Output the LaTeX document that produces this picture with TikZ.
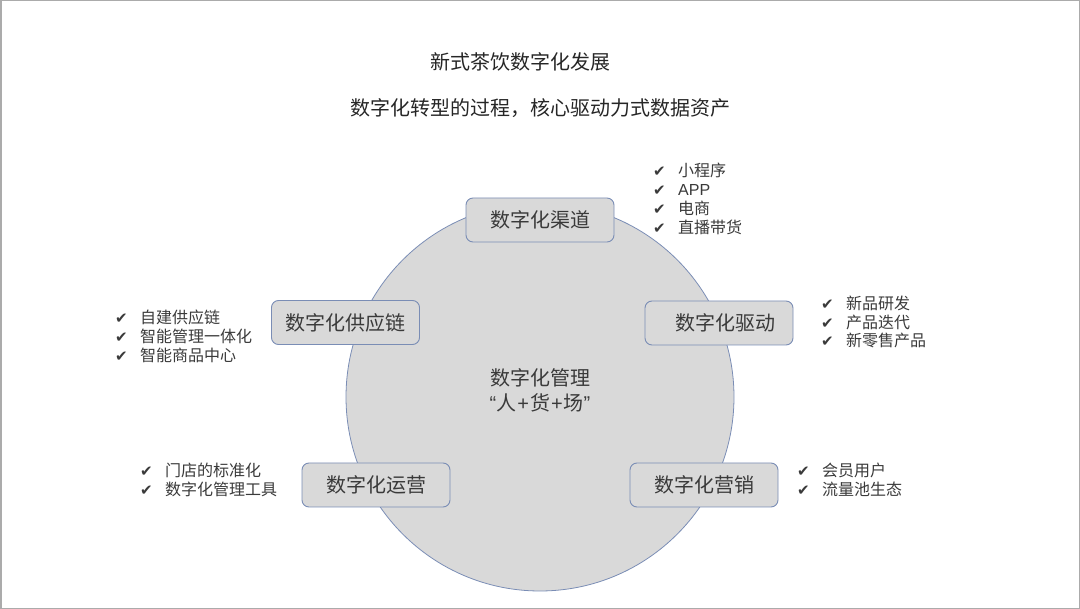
\documentclass[tikz,border=0pt]{standalone}
\usepackage{fontspec}
\setmainfont{Noto Sans CJK SC}
\newfontfamily\latinfont{Liberation Sans}
\newfontfamily\symfont{DejaVu Sans}
\newcommand{\chk}{{\symfont\fontsize{15pt}{15pt}\selectfont ✔}}
\newcommand{\itm}[1]{\makebox[25pt][l]{\chk}#1}
\definecolor{cgray}{HTML}{D9D9D9}
\definecolor{edgeblue}{HTML}{7A8DB5}
\definecolor{txt}{HTML}{3A3A3A}
\definecolor{framegray}{HTML}{ABABAB}
\tikzset{
  item/.style={anchor=west, inner sep=0pt, font=\fontsize{16pt}{19pt}\selectfont, text=txt, text height=13pt, text depth=1pt},
  stagebox/.style={rectangle, rounded corners=7pt, draw=edgeblue, fill=cgray, line width=0.9pt, minimum width=148pt, minimum height=44pt, font=\fontsize{20pt}{24pt}\selectfont, text=txt, inner sep=0pt},
  titletext/.style={font=\fontsize{20pt}{24pt}\selectfont, text=black!85, inner sep=0pt}
}
\begin{document}
\begin{tikzpicture}[x=1pt,y=-1pt]
\useasboundingbox (0,0) rectangle (1080,609);
\draw[line width=1.5pt, framegray] (0.75,0.75) rectangle (1079.25,608.25);

\node[titletext] (t1) at (520,62) {新式茶饮数字化发展};
\node[titletext] (t2) at (540,108) {数字化转型的过程，核心驱动力式数据资产};

\node[circle, minimum size=388pt, fill=cgray, draw=edgeblue, line width=0.8pt, inner sep=0pt] (core) at (540,397) {};
\node[font=\fontsize{20pt}{25pt}\selectfont, text=txt, align=center, inner sep=0pt] (ctext) at (540,390)
  {数字化管理\\{\latinfont “}人{\latinfont\kern1pt+\kern1pt}货{\latinfont\kern1pt+\kern1pt}场{\latinfont ”}};

\node[stagebox] (qudao) at (540,220) {数字化渠道};
\node[stagebox] (gongying) at (345.5,322.5) {数字化供应链};
\node[stagebox] (qudong) at (719,323) {\hspace{12pt}数字化驱动};
\node[stagebox] (yunying) at (376,485) {数字化运营};
\node[stagebox] (yingxiao) at (704,485) {数字化营销};

\node[item] (q1) at (653,171) {\itm{小程序}};
\node[item] (q2) at (653,190) {\itm{{\latinfont APP}}};
\node[item] (q3) at (653,209) {\itm{电商}};
\node[item] (q4) at (653,228) {\itm{直播带货}};

\node[item] (g1) at (115,318) {\itm{自建供应链}};
\node[item] (g2) at (115,337) {\itm{智能管理一体化}};
\node[item] (g3) at (115,356) {\itm{智能商品中心}};

\node[item] (d1) at (821,304) {\itm{新品研发}};
\node[item] (d2) at (821,322.5) {\itm{产品迭代}};
\node[item] (d3) at (821,341) {\itm{新零售产品}};

\node[item] (y1) at (140,471) {\itm{门店的标准化}};
\node[item] (y2) at (140,490) {\itm{数字化管理工具}};

\node[item] (m1) at (797,471) {\itm{会员用户}};
\node[item] (m2) at (797,490) {\itm{流量池生态}};
\end{tikzpicture}
\end{document}
